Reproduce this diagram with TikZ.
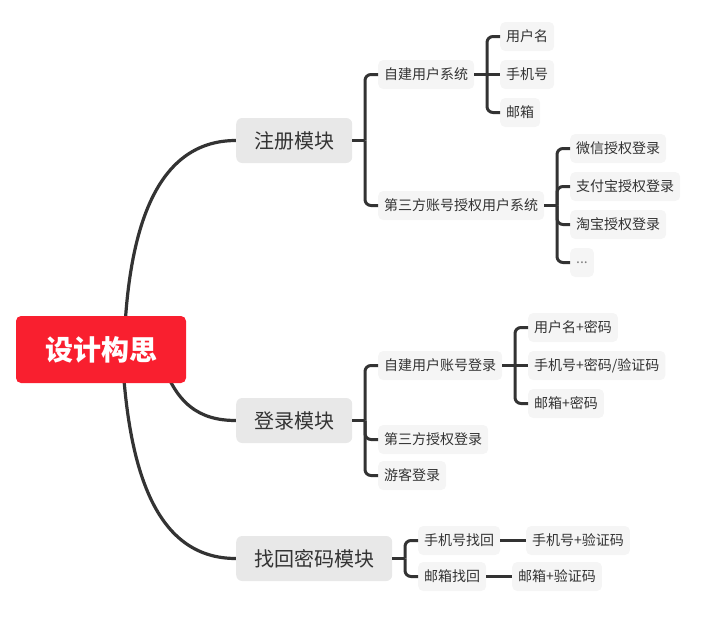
\documentclass[tikz,border=0pt]{standalone}
\usepackage{fontspec}
\setmainfont{Noto Sans CJK SC}
\usepackage{tikz}
\pgfdeclarelayer{bg}
\pgfsetlayers{bg,main}
\definecolor{rootred}{HTML}{F91F2F}
\definecolor{linkgray}{HTML}{333333}
\definecolor{mainfill}{HTML}{E8E8E8}
\definecolor{subfill}{HTML}{F5F5F5}
\tikzset{
    every node/.style={inner sep=0mm, text=linkgray, anchor=west}
}
\tikzset{
    rootbox/.style={fill=rootred, anchor=center, minimum width=170pt, minimum height=67pt, rounded corners=5pt, text=white, font=\fontsize{28}{30}\selectfont\bfseries},
    mainbox/.style={fill=mainfill, inner xsep=18pt, minimum height=45pt, rounded corners=6pt, font=\fontsize{20}{22}\selectfont},
    subbox/.style={fill=subfill, inner xsep=6pt, minimum height=29pt, rounded corners=5pt, font=\fontsize{14}{16}\selectfont},
    link/.style={draw=linkgray, line width=3.2pt},
    spine/.style={draw=linkgray, line width=3pt, rounded corners=6pt}
}

\begin{document}
\begin{tikzpicture}[x=1pt, y=-1pt]
        \useasboundingbox (0,0) rectangle (719,619);
        \node (root) [rootbox] at (101, 349.5) {设计构思};
        \node (zc) [mainbox] at (236, 140.5) {注册模块};
        \node (dl) [mainbox] at (236, 420.5) {登录模块};
        \node (zh) [mainbox] at (236, 558.5) {找回密码模块};
        % 注册模块
        \node (zcZj) [subbox] at (378, 74.5) {自建用户系统};
        \node (zcYhm) [subbox] at (500, 36.5) {用户名};
        \node (zcSjh) [subbox] at (500, 74.5) {手机号};
        \node (zcYx) [subbox] at (500, 112.5) {邮箱};
        \node (zcDsf) [subbox] at (378, 205.5) {第三方账号授权用户系统};
        \node (zcWx) [subbox] at (570, 148.5) {微信授权登录};
        \node (zcZfb) [subbox] at (570, 186.5) {支付宝授权登录};
        \node (zcTb) [subbox] at (570, 224.5) {淘宝授权登录};
        \node (zcMore) [subbox, text=gray] at (570, 262.5) {...};
        % 登录模块
        \node (dlZj) [subbox] at (378, 365.5) {自建用户账号登录};
        \node (dlYhm) [subbox] at (528, 327.5) {用户名+密码};
        \node (dlSjh) [subbox] at (528, 365.5) {手机号+密码/验证码};
        \node (dlYx) [subbox] at (528, 403.5) {邮箱+密码};
        \node (dlDsf) [subbox] at (378, 439.5) {第三方授权登录};
        \node (dlYk) [subbox] at (378, 475.5) {游客登录};
        % 找回密码模块
        \node (zhSj) [subbox] at (418, 540.5) {手机号找回};
        \node (zhSjYz) [subbox] at (526, 540.5) {手机号+验证码};
        \node (zhYx) [subbox] at (418, 576.5) {邮箱找回};
        \node (zhYxYz) [subbox] at (512, 576.5) {邮箱+验证码};
        % spines
        \coordinate (s1) at (365, 0);
        \coordinate (s2) at (487, 0);
        \coordinate (s3) at (557, 0);
        \coordinate (s4) at (515, 0);
        \coordinate (s5) at (405, 0);
        \coordinate (r1) at (124, 349);
        \coordinate (r2) at (160, 355);
        \coordinate (r3) at (122, 349);
        \begin{pgfonlayer}{bg}
                \draw [link] (r1) .. controls (128, 210) and (165, 140.5) .. (zc.west);
                \draw [link] (r2) .. controls (175, 405) and (200, 420.5) .. (dl.west);
                \draw [link] (r3) .. controls (128, 480) and (160, 558.5) .. (zh.west);
        \end{pgfonlayer}
        \draw [spine] (zc.east) -- (zc.east -| s1);
        \draw [spine] (zc.east -| s1) |- (zcZj.west);
        \draw [spine] (zc.east -| s1) |- (zcDsf.west);
        \draw [spine] (zcZj.east) -- (zcZj.east -| s2);
        \draw [spine] (zcZj.east -| s2) |- (zcYhm.west);
        \draw [spine] (zcZj.east -| s2) -- (zcSjh.west);
        \draw [spine] (zcZj.east -| s2) |- (zcYx.west);
        \draw [spine] (zcDsf.east) -- (zcDsf.east -| s3);
        \draw [spine] (zcDsf.east -| s3) |- (zcWx.west);
        \draw [spine] (zcDsf.east -| s3) |- (zcZfb.west);
        \draw [spine] (zcDsf.east -| s3) |- (zcTb.west);
        \draw [spine] (zcDsf.east -| s3) |- (zcMore.west);
        \draw [spine] (dl.east) -- (dl.east -| s1);
        \draw [spine] (dl.east -| s1) |- (dlZj.west);
        \draw [spine] (dl.east -| s1) |- (dlDsf.west);
        \draw [spine] (dl.east -| s1) |- (dlYk.west);
        \draw [spine] (dlZj.east) -- (dlZj.east -| s4);
        \draw [spine] (dlZj.east -| s4) |- (dlYhm.west);
        \draw [spine] (dlZj.east -| s4) -- (dlSjh.west);
        \draw [spine] (dlZj.east -| s4) |- (dlYx.west);
        \draw [spine] (zh.east) -- (zh.east -| s5);
        \draw [spine] (zh.east -| s5) |- (zhSj.west);
        \draw [spine] (zh.east -| s5) |- (zhYx.west);
        \draw [spine] (zhSj) -- (zhSjYz);
        \draw [spine] (zhYx) -- (zhYxYz);
\end{tikzpicture}
\end{document}
